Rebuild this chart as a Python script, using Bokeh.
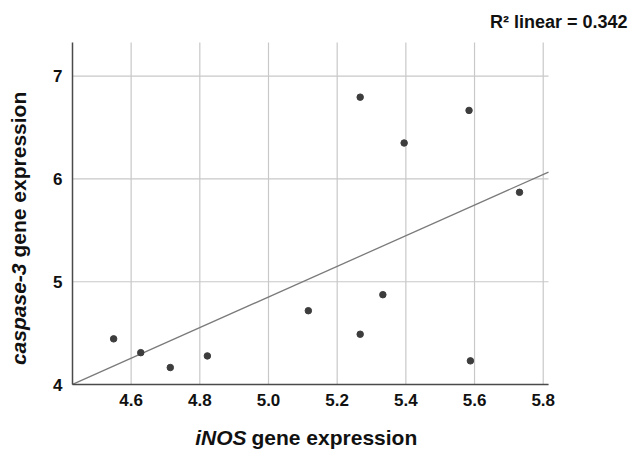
import numpy as np
from bokeh.plotting import figure
from bokeh.models import Range1d, FixedTicker, PrintfTickFormatter, Label
from bokeh.embed import file_html
from bokeh.resources import INLINE

# iNOS (x) vs caspase-3 (y) gene expression
inos = [4.549, 4.628, 4.714, 4.822, 5.116, 5.267, 5.267, 5.333, 5.395, 5.584, 5.588, 5.731]
casp3 = [4.444, 4.310, 4.165, 4.278, 4.718, 6.796, 4.489, 4.874, 6.350, 6.667, 4.230, 5.870]
x_ticks = [4.6, 4.8, 5.0, 5.2, 5.4, 5.6, 5.8]
y_ticks = [4, 5, 6, 7]
r2_text = "R\u00b2 linear = 0.342"
x_label_italic = "iNOS"
x_label_rest = "gene expression"
y_label_italic = "caspase-3"
y_label_rest = "gene expression"

FONT = "Liberation Sans"
W, H = 628, 450

# layout: the frame covers the whole canvas; axes are placed inside it
X0, X1 = 4.21957, 4.21957 + W / 343.4
Y1 = 7.0 + 75.7 / 102.77
Y0 = 4.0 - (H - 384) / 102.77
AX_L, AX_R = 4.42924, 5.81538      # axis extents (x)
AX_B, AX_T = 4.0, 7.3279           # axis extents (y)


def px(X, Y):
    """page pixel -> data coordinates"""
    return X0 + X / W * (X1 - X0), Y1 - Y / H * (Y1 - Y0)


p = figure(width=W, height=H, output_backend="svg", toolbar_location=None,
           x_range=Range1d(X0, X1), y_range=Range1d(Y0, Y1),
           min_border=0, min_border_left=0, min_border_right=0,
           min_border_top=0, min_border_bottom=0)
p.outline_line_color = None
p.background_fill_color = "white"
p.border_fill_color = "white"
p.xgrid.visible = False
p.ygrid.visible = False

# grid lines limited to the axes area
GRID = "#c8c8c8"
p.segment(x0=x_ticks, y0=[AX_B] * len(x_ticks), x1=x_ticks, y1=[AX_T] * len(x_ticks),
          line_color=GRID, line_width=1.2)
p.segment(x0=[AX_L] * len(y_ticks), y0=y_ticks, x1=[AX_R] * len(y_ticks), y1=y_ticks,
          line_color=GRID, line_width=1.2)

xa, ya = p.xaxis[0], p.yaxis[0]
xa.fixed_location = AX_B
xa.bounds = (AX_L, AX_R)
ya.fixed_location = AX_L
ya.bounds = (AX_B, AX_T)
for ax in (xa, ya):
    ax.axis_line_color = "#4a4a4a"
    ax.axis_line_width = 1.5
    ax.major_tick_out = 0
    ax.major_tick_in = 0
    ax.minor_tick_out = 0
    ax.minor_tick_in = 0
    ax.major_label_text_font = FONT
    ax.major_label_text_font_style = "bold"
    ax.major_label_text_font_size = "17px"
    ax.major_label_text_color = "#111111"
xa.ticker = FixedTicker(ticks=x_ticks)
ya.ticker = FixedTicker(ticks=y_ticks)
xa.formatter = PrintfTickFormatter(format="%.1f")
ya.formatter = PrintfTickFormatter(format="%d")
xa.major_label_standoff = 9
ya.major_label_standoff = 10

# linear fit
m, b = np.polyfit(np.array(inos), np.array(casp3), 1)
fx = [AX_L, AX_R]
p.line(fx, [m * v + b for v in fx], line_color="#7a7a7a", line_width=1.3)

p.scatter(inos, casp3, size=6.5, fill_color="#3d3d3d", line_color="#3d3d3d")


def add_label(X, Y, text, style, size, align, angle=0.0):
    x, y = px(X, Y)
    p.add_layout(Label(x=x, y=y, text=text, angle=angle,
                       text_font=FONT, text_font_style=style, text_font_size=size,
                       text_align=align, text_baseline="alphabetic", text_color="#111111"))


add_label(627, 21, r2_text, "bold", "18px", "right")
add_label(246, 437, x_label_italic, "bold italic", "21px", "right")
add_label(251, 437, x_label_rest, "bold", "21px", "left")
add_label(18, 263, y_label_italic, "bold italic", "21px", "right", np.pi / 2)
add_label(18, 257, y_label_rest, "bold", "21px", "left", np.pi / 2)

open("out.html", "w").write(file_html(p, INLINE))
